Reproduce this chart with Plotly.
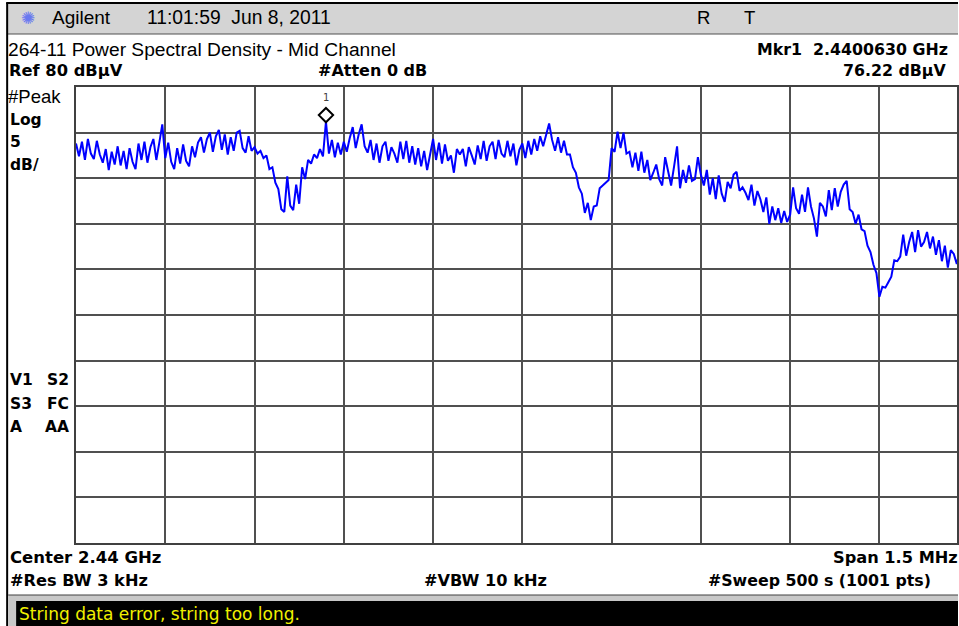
import numpy as np
import plotly.graph_objects as go

# ---- data ----
center_mhz = 2440.0
span_mhz = 1.5
n_pts = 301
freq_mhz = np.linspace(center_mhz - span_mhz / 2, center_mhz + span_mhz / 2, n_pts)

level_dbuv = [
    73.8, 72.4, 74.0, 72.0, 74.3, 72.7, 72.1, 74.1, 72.6, 71.7,
    73.2, 70.9, 72.9, 71.5, 73.5, 71.4, 73.0, 71.0, 73.3, 71.8,
    71.0, 73.8, 72.0, 74.0, 71.7, 73.4, 74.3, 72.0, 73.9, 75.9,
    72.2, 73.9, 71.8, 71.0, 73.3, 71.6, 73.7, 71.9, 71.3, 73.5,
    72.3, 73.9, 74.5, 72.8, 74.3, 75.0, 72.9, 74.6, 75.3, 73.1,
    74.8, 72.6, 74.5, 73.0, 75.0, 75.2, 73.3, 72.8, 74.6, 73.0,
    73.4, 72.7, 73.0, 72.2, 72.5, 71.0, 71.2, 69.5, 68.8, 66.6,
    66.3, 70.2, 67.0, 66.5, 69.3, 67.2, 71.2, 69.9, 72.0, 71.6,
    72.6, 72.2, 73.2, 72.4, 76.22, 72.7, 74.2, 72.3, 73.9, 72.6,
    74.0, 72.9, 74.4, 75.6, 73.3, 74.8, 75.9, 73.5, 72.8, 74.2,
    72.0, 73.8, 71.7, 73.5, 74.0, 71.9, 73.4, 72.7, 71.7, 74.0,
    72.1, 74.1, 71.7, 73.5, 71.5, 73.3, 71.3, 73.0, 70.9, 72.6,
    74.3, 72.0, 73.9, 71.6, 73.7, 71.9, 72.5, 70.6, 73.2, 72.6,
    73.2, 71.3, 73.4, 72.5, 71.5, 73.6, 72.1, 74.1, 71.9, 73.5,
    74.0, 72.1, 74.2, 72.7, 72.3, 74.1, 72.4, 73.8, 71.4, 73.1,
    73.8, 72.2, 74.1, 72.6, 74.3, 73.0, 74.6, 73.5, 74.9, 76.0,
    74.2, 73.0, 74.5, 72.8, 74.1, 72.6, 72.6, 71.2, 70.6, 69.0,
    68.3, 66.2, 67.3, 65.4, 66.9, 67.0, 68.9, 69.2, 69.5, 69.8,
    73.3, 72.9, 75.1, 73.3, 75.0, 72.7, 72.9, 71.2, 72.8, 70.8,
    72.9, 70.6, 72.0, 69.8, 70.6, 71.5, 69.9, 69.2, 72.3, 70.9,
    69.2, 71.3, 73.5, 68.9, 70.9, 69.5, 71.4, 69.7, 69.9, 72.3,
    70.4, 69.2, 70.9, 68.2, 70.0, 67.7, 70.3, 68.3, 67.4, 69.6,
    68.9, 70.4, 70.7, 68.6, 69.0, 68.4, 67.6, 69.3, 67.0, 68.6,
    67.7, 66.3, 67.9, 65.0, 66.9, 65.4, 66.7, 65.1, 66.4, 65.2,
    66.0, 69.0, 66.7, 66.1, 68.2, 66.3, 69.0, 66.9, 65.6, 63.6,
    67.3, 66.9, 65.8, 68.7, 66.5, 68.9, 66.9, 68.5, 69.3, 69.7,
    66.6, 66.3, 65.0, 66.0, 64.4, 64.2, 62.6, 61.9, 60.5, 59.6,
    57.0, 58.1, 58.0, 58.6, 59.2, 61.0, 60.9, 61.4, 63.8, 61.5,
    63.0, 64.1, 61.9, 64.3, 62.5, 63.0, 64.1, 62.3, 63.6, 61.6,
    63.2, 60.9, 62.6, 60.2, 62.1, 61.7, 60.6, 62.0, 60.5, 61.8,
    60.9,
]

marker_idx = 84
ref_level = 80
db_per_div = 5

# ---- geometry (pixels) ----
W, H = 959, 626
PL, PR, PT, PB = 76, 959, 87, 543  # plot area


def px(x):
    return (x - PL) / (PR - PL)


def py(y):
    return (PB - y) / (PB - PT)


fig = go.Figure()
fig.add_trace(go.Scatter(
    x=freq_mhz, y=level_dbuv, mode="lines",
    line=dict(color="#0000ff", width=2), hoverinfo="skip",
))
# marker 1 diamond above the peak
fig.add_trace(go.Scatter(
    x=[freq_mhz[marker_idx]], y=[level_dbuv[marker_idx] + 0.7], mode="markers",
    marker=dict(symbol="diamond-open", size=11, color="black", line=dict(width=2, color="black")),
    hoverinfo="skip",
))

visible_frac = (W - PL) / (970.7 - PL)
x0 = freq_mhz[0]
fig.update_xaxes(
    range=[x0, x0 + span_mhz * visible_frac], tick0=x0, dtick=span_mhz / 10,
    showgrid=True, gridcolor="#505050", gridwidth=2, showticklabels=False,
    zeroline=False, showline=True, linecolor="#404040", linewidth=2, mirror=True, ticks="",
)
fig.update_yaxes(
    range=[ref_level - 10 * db_per_div, ref_level], tick0=ref_level - 10 * db_per_div, dtick=db_per_div,
    showgrid=True, gridcolor="#505050", gridwidth=2, showticklabels=False,
    zeroline=False, showline=True, linecolor="#404040", linewidth=2, mirror=True, ticks="",
)

shapes = []
# title bar
shapes.append(dict(type="rect", xref="paper", yref="paper", x0=px(7), x1=px(960), y0=py(34), y1=py(3),
                   fillcolor="#d4d4d4", line=dict(width=0), layer="below"))
shapes.append(dict(type="line", xref="paper", yref="paper", x0=px(6), x1=px(960), y0=py(3), y1=py(3),
                   line=dict(color="black", width=2)))
shapes.append(dict(type="line", xref="paper", yref="paper", x0=px(7), x1=px(960), y0=py(34), y1=py(34),
                   line=dict(color="#505050", width=1)))
# left border
shapes.append(dict(type="line", xref="paper", yref="paper", x0=px(7), x1=px(7), y0=py(3), y1=py(626),
                   line=dict(color="black", width=2)))
# bottom bars
shapes.append(dict(type="rect", xref="paper", yref="paper", x0=px(8), x1=px(960), y0=py(626), y1=py(595),
                   fillcolor="#c8c8c8", line=dict(width=0)))
shapes.append(dict(type="line", xref="paper", yref="paper", x0=px(8), x1=px(960), y0=py(595), y1=py(595),
                   line=dict(color="#404040", width=1)))
shapes.append(dict(type="rect", xref="paper", yref="paper", x0=px(16), x1=px(960), y0=py(626), y1=py(601),
                   fillcolor="black", line=dict(width=0)))

ann = []
F = "DejaVu Sans, Verdana, sans-serif"
FA = "Liberation Sans, Arial, sans-serif"


def txt(x, y, s, size=15, bold=False, anchor="left", color="black", family=F):
    ann.append(dict(xref="paper", yref="paper", x=px(x), y=py(y), text=(f"<b>{s}</b>" if bold else s),
                    showarrow=False, xanchor=anchor, yanchor="middle",
                    font=dict(family=family, size=size, color=color)))


NB = "\u00a0"
txt(19, 18, "✺", size=17, color="#6a78f0")
txt(50, 18, "Agilent", size=19, family=FA)
txt(145, 18, f"11:01:59{NB}{NB}Jun 8, 2011", size=19.3, family=FA)
txt(696, 18, "R", size=18.5, family=FA)
txt(744, 18, "T", size=18.5, family=FA)

txt(6, 50, "264-11 Power Spectral Density - Mid Channel", size=19.2, family=FA)
txt(952, 50, f"Mkr1{NB}{NB}2.4400630 GHz", size=15.8, bold=True, anchor="right")
txt(7, 71, "Ref 80 dBµV", size=16.3, bold=True)
txt(317, 71, "#Atten 0 dB", size=16.0, bold=True)
txt(950, 71, "76.22 dBµV", size=15.8, bold=True, anchor="right")

txt(6, 97, "#Peak", size=18.5, family=FA)
txt(8, 120, "Log", size=15.5, bold=True)
txt(8, 142, "5", size=15.5, bold=True)
txt(8, 165, "dB/", size=15.5, bold=True)

txt(8, 380, "V1", size=15.5, bold=True)
txt(71, 380, "S2", size=15.5, bold=True, anchor="right")
txt(8, 404, "S3", size=15.5, bold=True)
txt(71, 404, "FC", size=15.5, bold=True, anchor="right")
txt(8, 427, "A", size=15.5, bold=True)
txt(71, 427, "AA", size=15.5, bold=True, anchor="right")

txt(8, 557, "Center 2.44 GHz", size=16.5, bold=True)
txt(962, 557, "Span 1.5 MHz", size=16.2, bold=True, anchor="right")
txt(8, 580, "#Res BW 3 kHz", size=16.2, bold=True)
txt(423, 580, "#VBW 10 kHz", size=16.2, bold=True)
txt(707, 580, "#Sweep 500 s (1001 pts)", size=15.8, bold=True)
txt(17, 614, "String data error, string too long.", size=17, color="#f0f000")

# marker number
ann.append(dict(x=freq_mhz[marker_idx], y=level_dbuv[marker_idx], xref="x", yref="y", text="1",
                showarrow=False, yshift=24, font=dict(family=F, size=10, color="#404040")))

fig.update_layout(
    width=W, height=H,
    margin=dict(l=PL, r=W - PR, t=PT, b=H - PB, pad=0),
    paper_bgcolor="white", plot_bgcolor="white",
    showlegend=False, shapes=shapes, annotations=ann,
)

fig.write_html("out.html", config={"displayModeBar": False},
               post_script="document.body.style.margin='0';document.body.style.overflow='hidden';")
